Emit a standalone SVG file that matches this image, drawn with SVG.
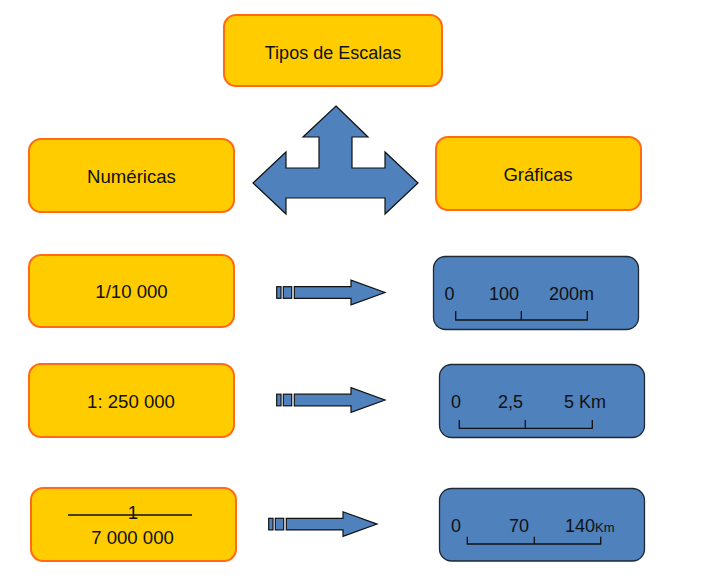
<svg xmlns="http://www.w3.org/2000/svg" width="720" height="584" viewBox="0 0 720 584">
<style>
.ob{fill:#FFCC00;stroke:#FF6A13;stroke-width:2}
.bb{fill:#4F81BD;stroke:#1F2A36;stroke-width:1.3}
.t{font-family:"Liberation Sans",Arial,sans-serif;font-size:18px;fill:#111}
.L{font-size:18.6px}
.c{text-anchor:middle}
.ar{fill:#4F81BD;stroke:#111;stroke-width:1.2;stroke-linejoin:miter}
.sc{fill:none;stroke:#111;stroke-width:1.3}
</style>
<rect width="720" height="584" fill="#fff"/>
<g id="tipos"><rect class="ob" x="224" y="15" width="218" height="71" rx="12"/><text class="t c" x="333" y="59">Tipos de Escalas</text></g>
<g id="numericas"><rect class="ob" x="29" y="139" width="205" height="73" rx="12"/><text class="t L c" x="131.5" y="182.5">Numéricas</text></g>
<g id="graficas"><rect class="ob" x="436" y="137" width="205" height="73" rx="12"/><text class="t L c" x="538" y="180.5">Gráficas</text></g>
<g id="n1"><rect class="ob" x="29" y="255" width="205" height="72" rx="12"/><text class="t L c" x="131.5" y="297.5">1/10 000</text></g>
<g id="n2"><rect class="ob" x="29" y="364" width="205" height="73" rx="12"/><text class="t L c" x="131" y="408">1: 250 000</text></g>
<g id="n3"><rect class="ob" x="31" y="488" width="205" height="73" rx="12"/><line x1="68" y1="515" x2="192" y2="515" stroke="#111" stroke-width="1.3"/><text class="t L c" x="133" y="519">1</text><text class="t L c" x="132.5" y="544">7 000 000</text></g>
<g id="g1"><rect class="bb" x="433.5" y="256.5" width="205" height="73" rx="12"/><text class="t" x="444.5" y="300">0</text><text class="t" x="489" y="300">100</text><text class="t" x="549" y="300">200m</text><path class="sc" d="M455.7 311V320H587.3V311M521.3 311V320"/></g>
<g id="g2"><rect class="bb" x="439.5" y="364.5" width="205" height="73" rx="12"/><text class="t" x="451" y="407.5">0</text><text class="t" x="498" y="407.5">2,5</text><text class="t" x="564" y="407.5">5 Km</text><path class="sc" d="M459.3 420V428.3H592.3V420M525.3 420V428.3"/></g>
<g id="g3"><rect class="bb" x="439.5" y="488.5" width="205" height="72.5" rx="12"/><text class="t" x="451" y="531.5">0</text><text class="t" x="509" y="531.5">70</text><text class="t" x="565" y="531.5">140<tspan font-size="13">Km</tspan></text><path class="sc" d="M467.3 536.7V544H600.7V536.7M534.3 536.7V544"/></g>
<g id="connectors">
<polygon class="ar" points="336,106 368,137 352,137 352,168 385,168 385,152 418,183 385,214 385,198 286,198 286,214 253,183 286,152 286,168 319,168 319,137 303,137"/>
<g id="a1"><rect class="ar" x="276.7" y="286.7" width="4.3" height="11.6"/><rect class="ar" x="283.3" y="286.7" width="8.4" height="11.6"/><polygon class="ar" points="294.3,286.7 351,286.7 351,280.2 385,292.5 351,304.8 351,298.3 294.3,298.3"/></g>
<g id="a2"><rect class="ar" x="276.7" y="394.2" width="4.3" height="11.6"/><rect class="ar" x="283.3" y="394.2" width="8.4" height="11.6"/><polygon class="ar" points="294.3,394.2 351,394.2 351,387.7 385,400 351,412.3 351,405.8 294.3,405.8"/></g>
<g id="a3"><rect class="ar" x="268.7" y="518.3" width="4.3" height="11.6"/><rect class="ar" x="275.3" y="518.3" width="8.4" height="11.6"/><polygon class="ar" points="286.3,518.3 343,518.3 343,511.8 377,524.1 343,536.4 343,529.9 286.3,529.9"/></g>
</g>
</svg>
